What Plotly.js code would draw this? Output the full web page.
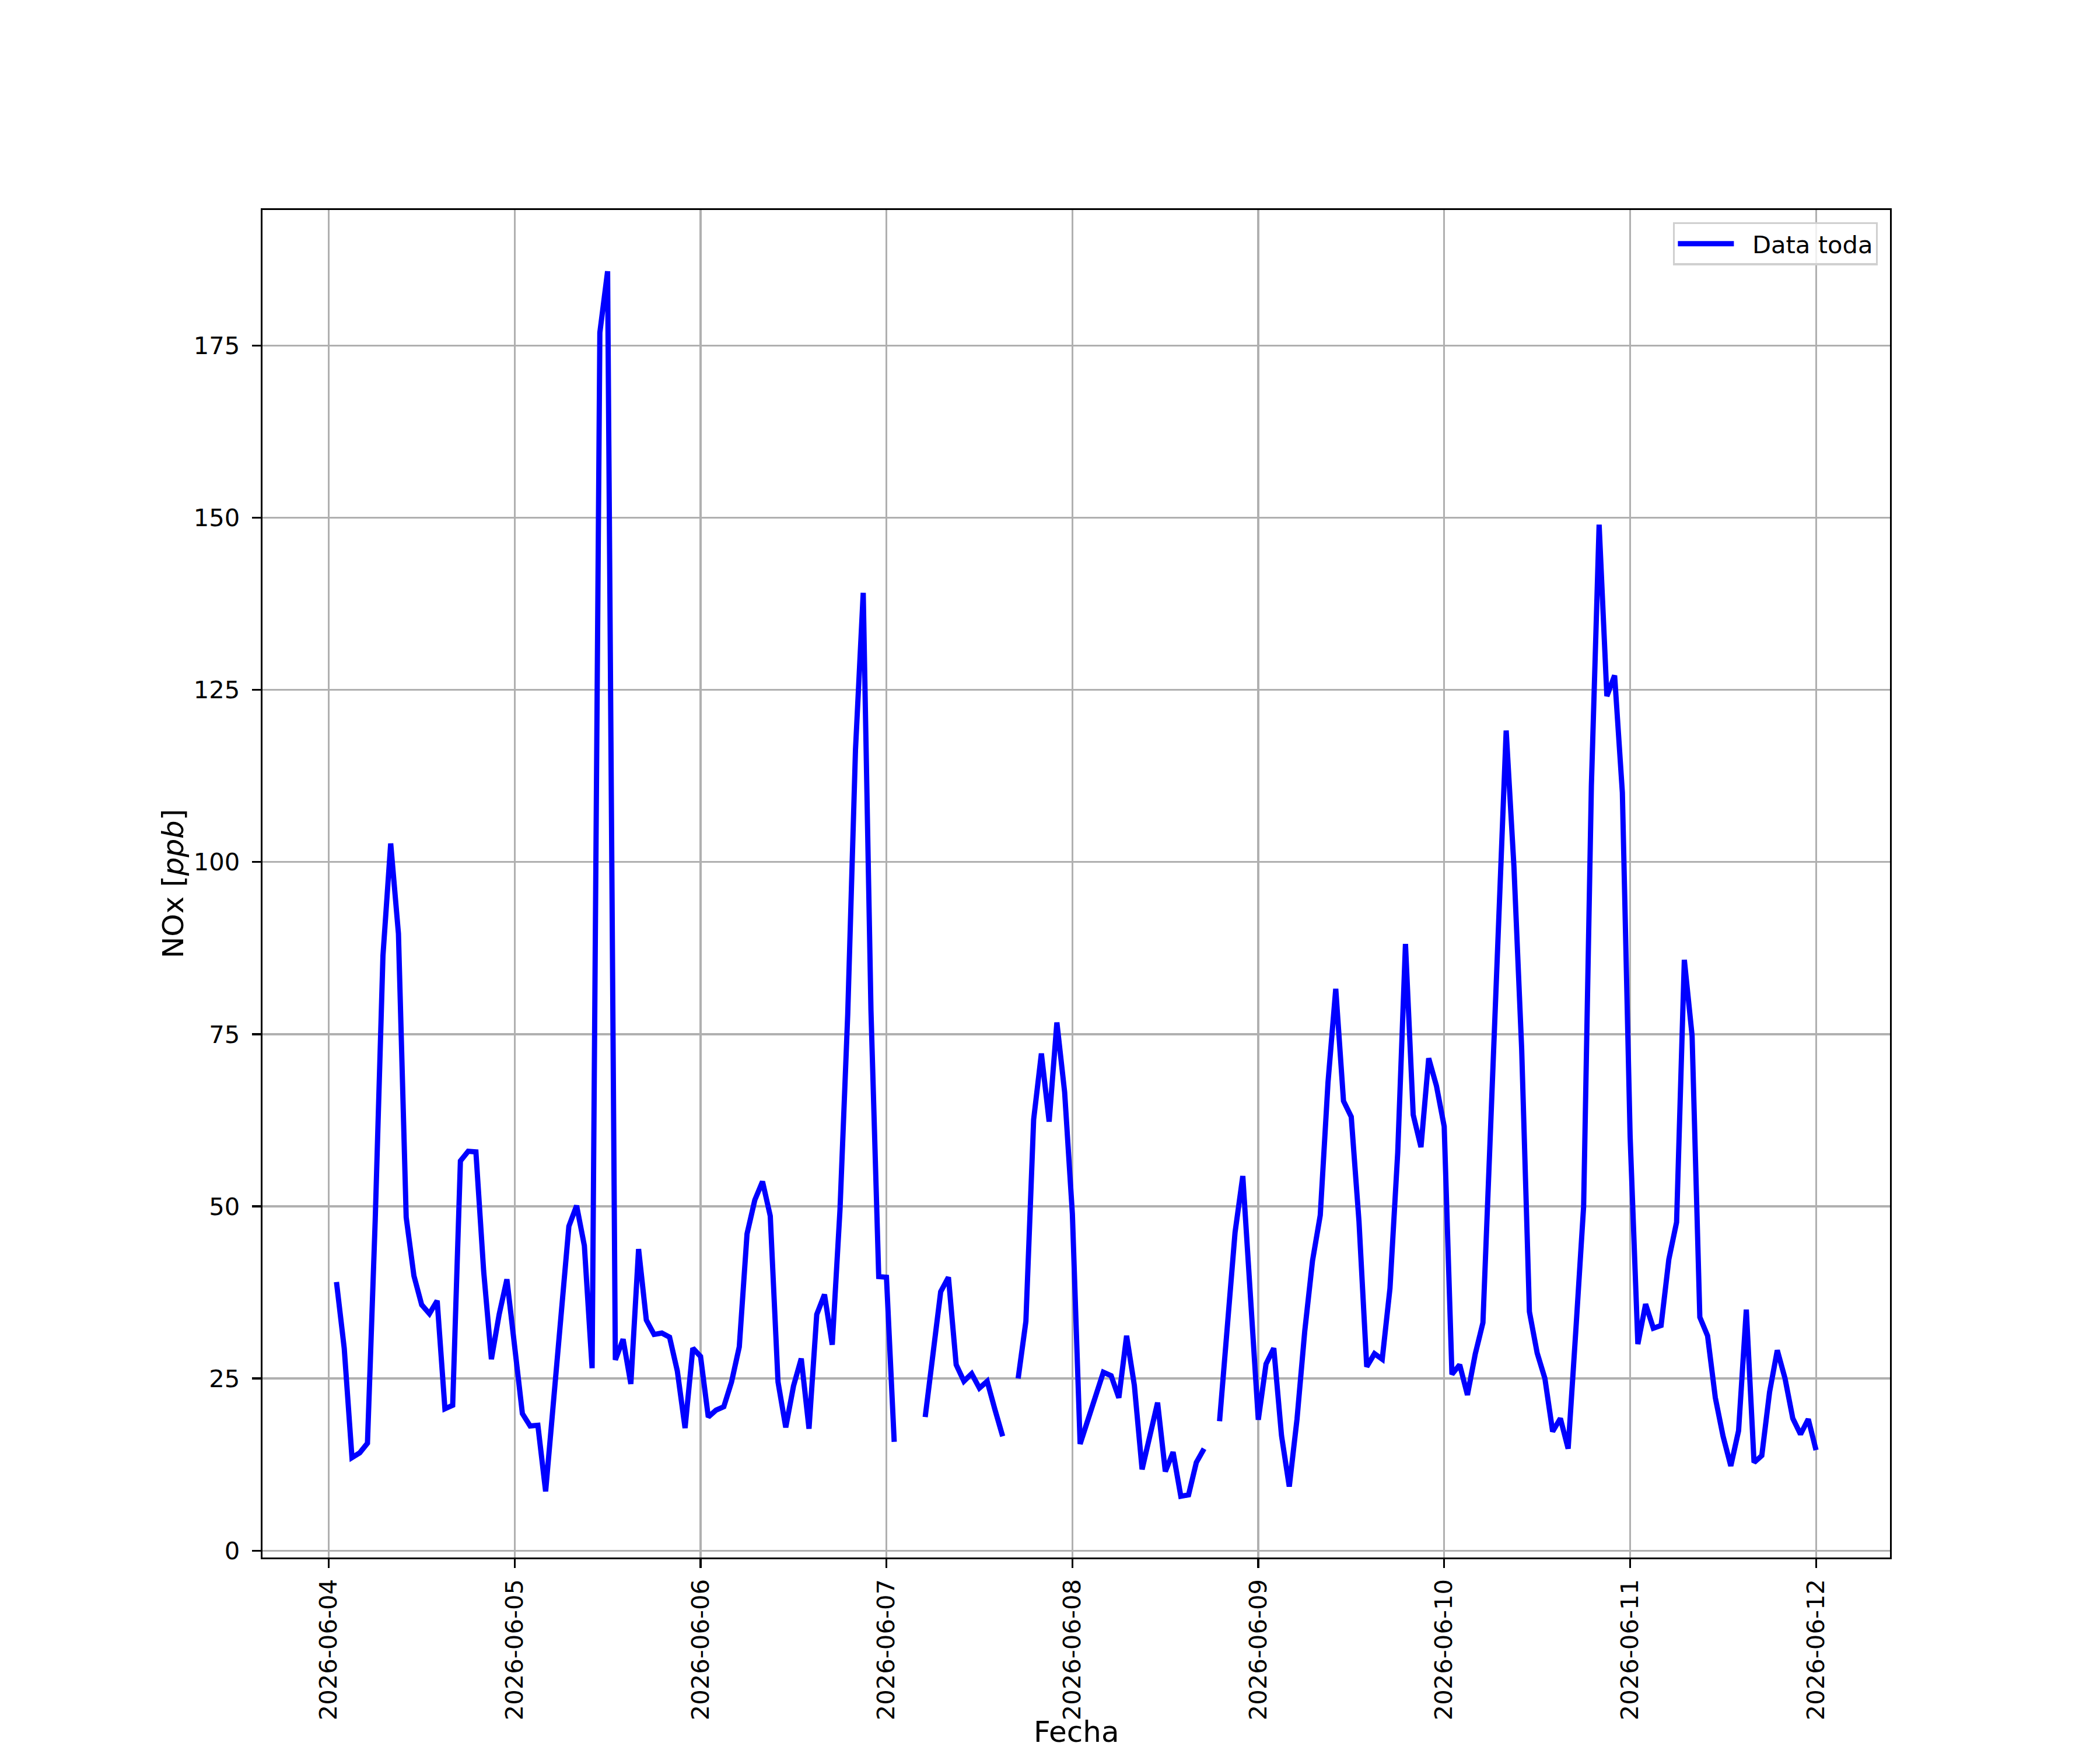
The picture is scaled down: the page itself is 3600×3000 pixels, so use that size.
<!DOCTYPE html>
<html>
<head>
<meta charset="utf-8">
<script src="https://cdn.plot.ly/plotly-3.0.1.min.js"></script>
<style>
  body { margin: 0; background: #fff; }
</style>
</head>
<body>
<div id="plot"></div>
<script>
// hourly NOx readings, first value is 2026-06-04 01:00
var startHour = Date.UTC(2026, 5, 4, 1);

var nox_0604 = [39.0, 29.4, 13.5, 14.2, 15.6, 48.0, 86.4, 102.7, 89.6, 48.4, 39.9, 35.7,
  34.4, 36.3, 20.6, 21.1, 56.6, 58.0, 57.9, 40.6, 27.8, 34.3, 39.4];
var nox_0605 = [30.0, 19.9, 18.1, 18.2, 8.6, 21.5, 34.4, 47.1, 50.1, 44.3, 26.5, 176.9,
  185.8, 27.7, 30.7, 24.2, 43.8, 33.5, 31.4, 31.6, 31.0, 26.1, 17.8, 29.4];
var nox_0606 = [28.2, 19.4, 20.4, 20.9, 24.5, 29.6, 46.0, 50.9, 53.6, 48.6, 24.5, 17.9,
  23.9, 27.9, 17.7, 34.3, 37.2, 29.9, 49.5, 77.9, 116.3, 139.1, 78.4, 39.8];
var nox_0607 = [39.7, 15.8, null, null, null, 19.4, 29.3, 37.6, 39.7, 27.0, 24.6, 25.7,
  23.6, 24.6, 20.5, 16.6, null, 25.0, 33.3, 62.6, 72.2, 62.3, 76.7, 66.6];
var nox_0608 = [48.9, 15.5, 19.1, 22.8, 25.9, 25.4, 22.2, 31.2, 24.0, 11.8, 16.8, 21.5,
  11.5, 14.3, 7.9, 8.1, 12.8, 14.8, null, 18.8, 32.5, 46.2, 54.4, 37.0];
var nox_0609 = [19.0, 27.1, 29.4, 16.7, 9.3, 19.1, 31.9, 42.1, 48.7, 68.0, 81.6, 65.3,
  63.0, 47.8, 26.7, 28.6, 27.8, 38.1, 57.8, 88.1, 63.3, 58.6, 71.5, 67.5];
var nox_0610 = [61.6, 25.6, 27.0, 22.6, 28.5, 33.1, 61.0, 90.0, 119.1, 99.4, 72.9, 34.7,
  28.7, 25.0, 17.3, 19.2, 14.8, 32.1, 50.0, 111.1, 149.0, 124.1, 127.1, 110.1];
var nox_0611 = [60.2, 30.0, 35.8, 32.3, 32.7, 42.3, 47.7, 85.8, 74.8, 33.9, 31.2, 22.2,
  16.6, 12.3, 17.4, 35.0, 12.8, 13.8, 23.0, 29.1, 25.0, 19.2, 16.9, 19.1];
var nox_0612 = [14.6];

var dayTicks = ['2026-06-04', '2026-06-05', '2026-06-06', '2026-06-07', '2026-06-08',
  '2026-06-09', '2026-06-10', '2026-06-11', '2026-06-12'];
var noxTicks = [0, 25, 50, 75, 100, 125, 150, 175];

var y = [].concat(nox_0604, nox_0605, nox_0606, nox_0607, nox_0608,
  nox_0609, nox_0610, nox_0611, nox_0612);
var x = y.map(function(v, i) {
  return new Date(startHour + i * 3600000).toISOString().slice(0, 16).replace('T', ' ');
});

var font = 'DejaVu Sans';
var fs = 41.7;   // tick / legend text
var ls = 50;     // axis labels

var trace = {
  x: x, y: y,
  name: '\u00a0\u00a0Data toda',
  type: 'scatter',
  mode: 'lines',
  connectgaps: false,
  line: {color: '#0000ff', width: 9}
};

var axisCommon = {
  showgrid: true,
  gridcolor: '#b0b0b0',
  gridwidth: 3.3,
  zeroline: false,
  showline: true,
  linecolor: '#000000',
  linewidth: 3.3,
  mirror: true,
  ticks: 'outside',
  ticklen: 15,
  tickwidth: 3.3,
  tickcolor: '#000000',
  tickfont: {family: font, size: fs, color: '#000000'},
  automargin: false
};

var layout = {
  width: 3600,
  height: 3000,
  margin: {l: 450, r: 360, t: 360, b: 330},
  paper_bgcolor: '#ffffff',
  plot_bgcolor: '#ffffff',
  font: {family: font, size: fs, color: '#000000'},
  showlegend: true,
  legend: {
    x: 0.9925, xanchor: 'right',
    y: 0.991, yanchor: 'top',
    bgcolor: 'rgba(255,255,255,0.8)',
    bordercolor: '#d0d0d0',
    borderwidth: 3.3,
    font: {family: font, size: fs},
    itemwidth: 96
  },
  xaxis: Object.assign({}, axisCommon, {
    type: 'date',
    range: ['2026-06-03 15:27', '2026-06-12 09:33'],
    tickmode: 'array',
    tickvals: dayTicks,
    ticktext: dayTicks,
    tickangle: -90,
    ticklabelstandoff: 2
  }),
  yaxis: Object.assign({}, axisCommon, {
    range: [-1.0, 194.7],
    tickmode: 'array',
    tickvals: noxTicks,
    ticktext: noxTicks.map(String),
    ticklabelstandoff: 12
  }),
  // axis titles placed by hand, matplotlib puts them below the rotated dates
  annotations: [
    {text: 'Fecha', xref: 'paper', yref: 'paper', x: 0.5, y: -0.1428,
      xanchor: 'center', yanchor: 'bottom', showarrow: false,
      font: {family: font, size: ls, color: '#000000'}},
    {text: 'NOx [<i>ppb</i>]', xref: 'paper', yref: 'paper', x: -0.0548, y: 0.5,
      xanchor: 'center', yanchor: 'middle', textangle: -90, showarrow: false,
      font: {family: font, size: ls, color: '#000000'}}
  ]
};

Plotly.newPlot('plot', [trace], layout, {staticPlot: true});
</script>
</body>
</html>
